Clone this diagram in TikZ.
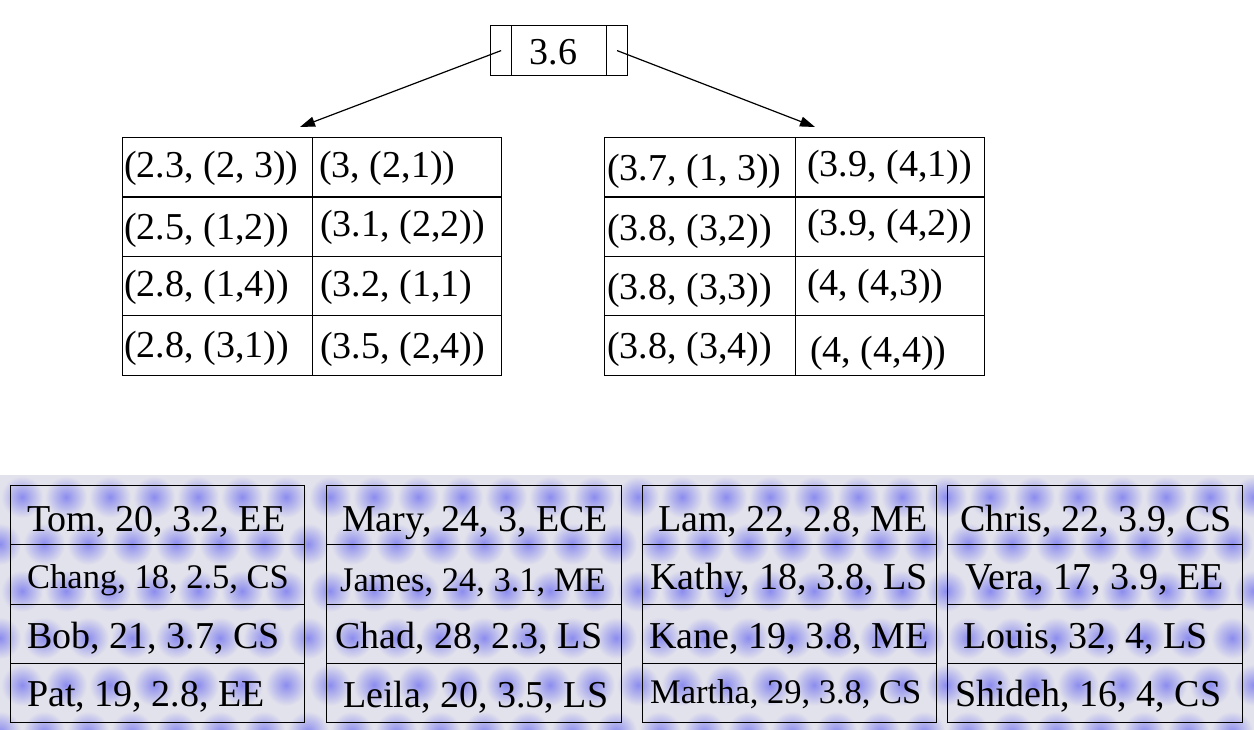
\documentclass[tikz,border=0pt]{standalone}
\usepackage{fontspec}
\setmainfont{Liberation Serif}
\usetikzlibrary{arrows.meta}
\definecolor{bgc}{RGB}{226,226,236}
\definecolor{blobc}{RGB}{140,140,238}
\begin{document}
\begin{tikzpicture}[x=1pt,y=-1pt,
  cellbox/.style={draw, line width=1.2pt, inner sep=0pt, anchor=north west},
  topcell/.style={cellbox, minimum width=190pt, minimum height=59.4pt},
  botcell/.style={cellbox, minimum width=295pt, minimum height=59.25pt},
  rootpart/.style={cellbox, minimum height=50pt},
  txt/.style={anchor=base west, inner sep=0pt, font=\fontsize{38}{40}\selectfont},
  smalltxt/.style={txt, font=\fontsize{34.5}{36}\selectfont},
  arr/.style={line width=1.2pt, -{Triangle[length=15pt,width=10pt]}}]
\useasboundingbox (0,0) rectangle (1254,730);
% patterned background of the data pages
\fill[bgc] (0,475) rectangle (1254,730);
\begin{scope}
\clip (0,475) rectangle (1254,730);
\foreach \yy [count=\r] in {497,544,591,638,685,732} {
  \foreach \xx in {0,44,...,1280} {
    \pgfmathsetmacro{\xs}{\xx + mod(\r,2)*22}
    \shade[inner color=blobc, outer color=bgc] (\xs,\yy) circle [radius=21pt];
  }
}
\end{scope}
% root node
\node[rootpart, minimum width=21pt] (rootL) at (490,25) {};
\node[rootpart, minimum width=95pt] (rootM) at (511,25) {};
\node[rootpart, minimum width=21pt] (rootR) at (606,25) {};
\node[txt, anchor=base] (rootT) at (553.5,65) {3.6};
\coordinate (tipL) at (300,127);
\coordinate (tipR) at (815,127);
\draw[arr] (rootL.center) -- (tipL);
\draw[arr] (rootR.center) -- (tipR);
% left index page
\node[topcell] (A11) at (122,137) {};
\node[topcell, minimum width=189pt] (A12) at (312,137) {};
\node[topcell] (A21) at (122,196.4) {};
\node[topcell, minimum width=189pt] (A22) at (312,196.4) {};
\node[topcell] (A31) at (122,255.8) {};
\node[topcell, minimum width=189pt] (A32) at (312,255.8) {};
\node[topcell] (A41) at (122,315.2) {};
\node[topcell, minimum width=189pt] (A42) at (312,315.2) {};
\node[txt] (tA11) at (124,178) {(2.3, (2, 3))};
\node[txt] (tA12) at (319,178) {(3, (2,1))};
\node[txt] (tA21) at (124,240) {(2.5, (1,2))};
\node[txt] (tA22) at (320,237) {(3.1, (2,2))};
\node[txt] (tA31) at (124,297) {(2.8, (1,4))};
\node[txt] (tA32) at (320,297) {(3.2, (1,1)};
\node[txt] (tA41) at (124,357) {(2.8, (3,1))};
\node[txt] (tA42) at (320,359) {(3.5, (2,4))};
% right index page
\node[topcell, minimum width=191pt] (B11) at (604,137) {};
\node[topcell, minimum width=189pt] (B12) at (795,137) {};
\node[topcell, minimum width=191pt] (B21) at (604,196.4) {};
\node[topcell, minimum width=189pt] (B22) at (795,196.4) {};
\node[topcell, minimum width=191pt] (B31) at (604,255.8) {};
\node[topcell, minimum width=189pt] (B32) at (795,255.8) {};
\node[topcell, minimum width=191pt] (B41) at (604,315.2) {};
\node[topcell, minimum width=189pt] (B42) at (795,315.2) {};
\node[txt] (tB11) at (607,181) {(3.7, (1, 3))};
\node[txt] (tB12) at (807,177) {(3.9, (4,1))};
\node[txt] (tB21) at (607,241) {(3.8, (3,2))};
\node[txt] (tB22) at (807,236) {(3.9, (4,2))};
\node[txt] (tB31) at (607,300) {(3.8, (3,3))};
\node[txt] (tB32) at (807,296) {(4, (4,3))};
\node[txt] (tB41) at (607,359) {(3.8, (3,4))};
\node[txt] (tB42) at (810,362) {(4, (4,4))};
% data pages
\node[botcell, minimum width=294.5pt] (P11) at (9.5,485) {};
\node[botcell, minimum width=294.5pt] (P12) at (9.5,544.25) {};
\node[botcell, minimum width=294.5pt] (P13) at (9.5,603.5) {};
\node[botcell, minimum width=294.5pt] (P14) at (9.5,662.75) {};
\node[botcell] (P21) at (326,485) {};
\node[botcell] (P22) at (326,544.25) {};
\node[botcell] (P23) at (326,603.5) {};
\node[botcell] (P24) at (326,662.75) {};
\node[botcell, minimum width=294pt] (P31) at (642,485) {};
\node[botcell, minimum width=294pt] (P32) at (642,544.25) {};
\node[botcell, minimum width=294pt] (P33) at (642,603.5) {};
\node[botcell, minimum width=294pt] (P34) at (642,662.75) {};
\node[botcell] (P41) at (947,485) {};
\node[botcell] (P42) at (947,544.25) {};
\node[botcell] (P43) at (947,603.5) {};
\node[botcell] (P44) at (947,662.75) {};
\node[txt] (tP11) at (27,531) {Tom, 20, 3.2, EE};
\node[smalltxt] (tP12) at (27,588) {Chang, 18, 2.5, CS};
\node[txt] (tP13) at (27,648) {Bob, 21, 3.7, CS};
\node[txt] (tP14) at (27,706) {Pat, 19, 2.8, EE};
\node[txt] (tP21) at (342,531) {Mary, 24, 3, ECE};
\node[smalltxt] (tP22) at (340,591) {James, 24, 3.1, ME};
\node[txt] (tP23) at (335,648) {Chad, 28, 2.3, LS};
\node[txt] (tP24) at (343,707) {Leila, 20, 3.5, LS};
\node[txt] (tP31) at (658,531) {Lam, 22, 2.8, ME};
\node[txt] (tP32) at (650,589) {Kathy, 18, 3.8, LS};
\node[txt] (tP33) at (649,648) {Kane, 19, 3.8, ME};
\node[smalltxt] (tP34) at (650,703) {Martha, 29, 3.8, CS};
\node[txt] (tP41) at (960,531) {Chris, 22, 3.9, CS};
\node[txt] (tP42) at (965,589) {Vera, 17, 3.9, EE};
\node[txt] (tP43) at (963,648) {Louis, 32, 4, LS};
\node[txt] (tP44) at (955,706) {Shideh, 16, 4, CS};
\end{tikzpicture}
\end{document}
